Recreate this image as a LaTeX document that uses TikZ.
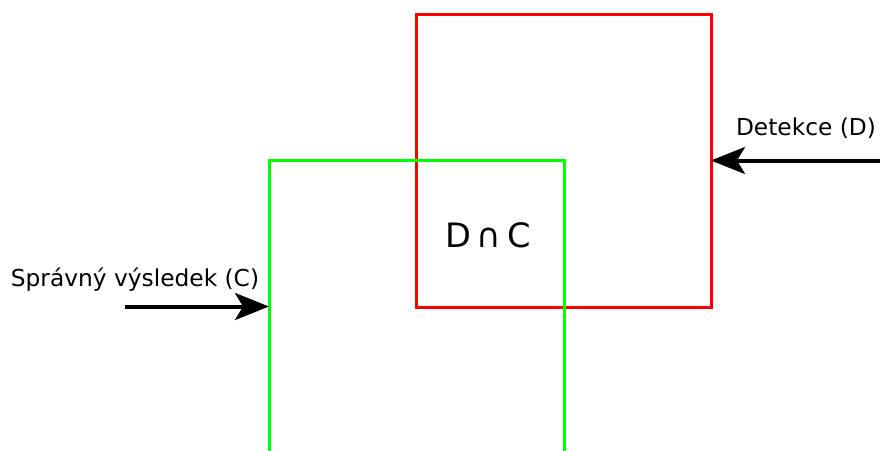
\documentclass[tikz,border=0pt]{standalone}
\usepackage{fontspec}
\setmainfont{DejaVu Sans}
\usetikzlibrary{arrows.meta}
\begin{document}
\begin{tikzpicture}[x=1pt,y=-1pt,
  setbox/.style={draw, line width=3pt, minimum width=295pt, minimum height=293pt, inner sep=0pt, outer sep=0pt},
  inarrow/.style={line width=4pt, -{Stealth[length=34pt, width=27pt, inset=8pt]}},
  lbl/.style={font=\fontsize{23.3pt}{28pt}\selectfont, inner sep=0pt}]
\useasboundingbox (0,0) rectangle (880,450);
\node[setbox, draw={rgb,255:red,255;green,0;blue,0}] (D) at (563.5,160.5) {};
\node[setbox, draw={rgb,255:red,0;green,255;blue,0}] (C) at (416.5,306.5) {};
\node[font=\fontsize{33.6pt}{40pt}\selectfont, inner sep=0pt] (DC) at (488,235) {D\,∩\,C};
\coordinate (dstart) at (880,160.5);
\coordinate (cstart) at (125,306.5);
\draw[inarrow] (dstart) -- (D.east);
\draw[inarrow] (cstart) -- (C.west);
\node[lbl, anchor=base] (dl) at (806,135) {Detekce (D)};
\node[lbl, anchor=base] (cl) at (135,286) {Správný výsledek (C)};
\end{tikzpicture}
\end{document}
